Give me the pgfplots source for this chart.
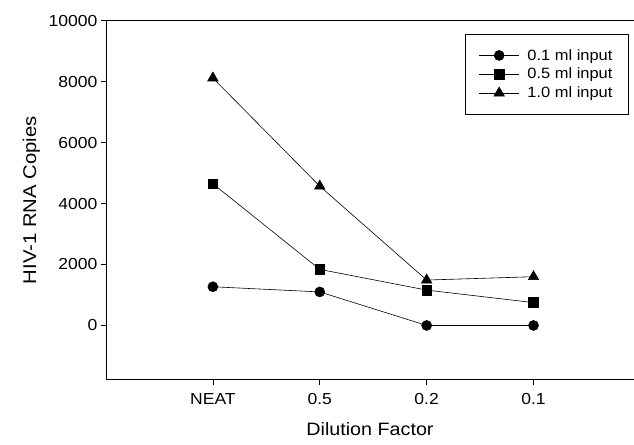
\documentclass[border=0pt]{standalone}
\usepackage{pgfplots}
\pgfplotsset{compat=1.18}
\usepackage{fontspec}
\setmainfont{Liberation Sans}[FakeStretch=1.1]
\usetikzlibrary{calc}

\begin{document}
\begin{tikzpicture}
\begin{axis}[
    scale only axis,
    width=528bp, height=359bp,
    xmin=0, xmax=4.94,
    ymin=-1780, ymax=10000,
    axis x line*=box, axis y line*=left,
    axis line style={-, line width=0.7pt},
    xtick={1,2,3,4},
    xticklabels={NEAT,0.5,0.2,0.1},
    ytick={0,2000,4000,6000,8000,10000},
    xtick pos=left, ytick pos=left,
    tick align=outside,
    major tick length=5bp,
    tick style={line width=0.6pt, black},
    scaled y ticks=false,
    /pgf/number format/1000 sep={},
    /pgf/number format/assume math mode=true,
    tick label style={font=\fontsize{16}{18}\selectfont},
    xticklabel style={yshift=-5bp},
    xlabel={Dilution Factor},
    ylabel={HIV-1 RNA Copies},
    xlabel style={font=\fontsize{18}{20}\selectfont, yshift=-11bp},
    ylabel style={font=\fontsize{18.5}{20}\selectfont, yshift=2bp},
    legend style={at={(0.99,0.963)}, anchor=north east,
        font=\fontsize{15}{17}\selectfont, draw=black, line width=0.6pt,
        inner xsep=14bp, inner ysep=13bp, row sep=2.5bp, column sep=6bp},
    legend cell align=left,
    legend image code/.code={
        \draw[mark repeat=2, mark phase=2]
            plot coordinates {(0bp,0bp) (20bp,0bp) (40bp,0bp)};
    },
    every axis plot/.append style={black, line width=0.6pt},
]
% 0.1 ml input
\addplot[mark=*, mark size=5bp] coordinates {
    (1, 1270) (2, 1100) (3, 0) (4, 0)
};
\addlegendentry{0.1 ml input}

% 0.5 ml input
\addplot[mark=square*, mark size=4.8bp] coordinates {
    (1, 4650) (2, 1840) (3, 1160) (4, 750)
};
\addlegendentry{0.5 ml input}

% 1.0 ml input
\addplot[mark=triangle*, mark size=6bp] coordinates {
    (1, 8120) (2, 4570) (3, 1490) (4, 1600)
};
\addlegendentry{1.0 ml input}
\end{axis}
\pgfresetboundingbox
\path[use as bounding box] ($(current axis.south west)+(-106bp,-65bp)$)
    rectangle ($(current axis.north east)+(0bp,20.7bp)$);
\end{tikzpicture}
\end{document}
